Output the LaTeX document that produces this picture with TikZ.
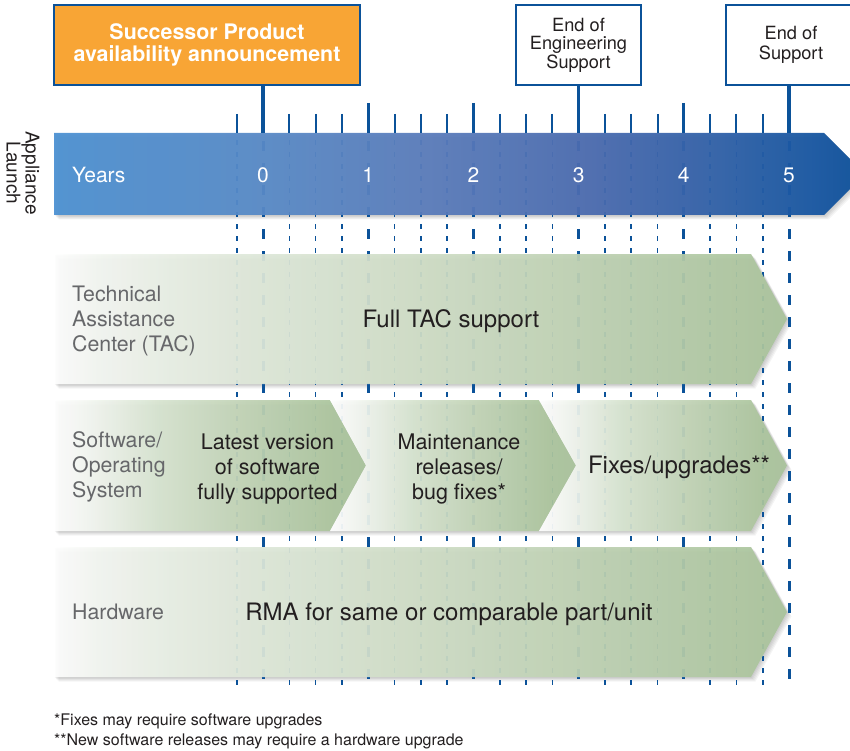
\documentclass[tikz,border=0pt]{standalone}
\usepackage{fontspec}
\setmainfont{TeX Gyre Heros}
\definecolor{cblue}{HTML}{0B5299}
\definecolor{corange}{HTML}{F8A535}
\definecolor{labgray}{HTML}{66676A}
\definecolor{txt}{HTML}{231F20}
\definecolor{gB}{HTML}{A9C49B}
\pgfdeclarehorizontalshading{barshade}{100bp}{color(0bp)=(rgb,255:red,76;green,145;blue,210); color(25bp)=(rgb,255:red,76;green,145;blue,210); color(38bp)=(rgb,255:red,88;green,137;blue,198); color(48bp)=(rgb,255:red,90;green,124;blue,187); color(58bp)=(rgb,255:red,74;green,107;blue,175); color(66bp)=(rgb,255:red,47;green,96;blue,168); color(71bp)=(rgb,255:red,26;green,88;blue,163); color(75bp)=(rgb,255:red,11;green,79;blue,152); color(100bp)=(rgb,255:red,11;green,79;blue,152)}
\pgfdeclarehorizontalshading{rowshade}{100bp}{color(0bp)=(white); color(25bp)=(white); color(28bp)=(rgb,255:red,244;green,247;blue,242); color(33bp)=(rgb,255:red,232;green,239;blue,228); color(38bp)=(rgb,255:red,223;green,232;blue,218); color(50bp)=(rgb,255:red,207;green,221;blue,198); color(62bp)=(rgb,255:red,189;green,208;blue,177); color(75bp)=(gB); color(100bp)=(gB)}
\pgfdeclarehorizontalshading{segshade}{100bp}{color(0bp)=(white); color(25bp)=(white); color(30bp)=(rgb,255:red,245;green,248;blue,243); color(42bp)=(rgb,255:red,214;green,227;blue,207); color(56bp)=(rgb,255:red,192;green,210;blue,180); color(70bp)=(rgb,255:red,171;green,197;blue,157); color(75bp)=(gB); color(100bp)=(gB)}
\newcommand\softshadow[1]{\foreach \k in {1,...,5}{\fill[black, opacity=0.045, shift={(\k*0.9,\k*0.9)}] #1;}}
\tikzset{
  tickmin/.style={cblue, line width=2pt},
  tickmaj/.style={cblue, line width=3.2pt},
  dmin/.style={cblue, line width=1.6pt, dash pattern=on 5pt off 7pt},
  dmaj/.style={cblue, line width=3pt, dash pattern=on 10pt off 12pt},
  topbox/.style={draw=cblue, line width=2.4pt, minimum height=80pt, align=center, inner sep=0},
  rowlab/.style={anchor=west, align=left, inner sep=0, text=labgray, font=\fontsize{21.3}{25}\selectfont},
  mainlab/.style={text=txt, font=\fontsize{24}{25}\selectfont, inner sep=0, anchor=base},
  sublab/.style={text=txt, align=center, font=\fontsize{21.5}{25}\selectfont, inner sep=0},
  yearlab/.style={text=white, font=\fontsize{21}{25}\selectfont, inner sep=0, anchor=base},
  rowfill/.style={fill opacity=0.93}
}
\begin{document}
\begin{tikzpicture}[x=1pt,y=-1pt]
\useasboundingbox (0,0) rectangle (850,751);
\clip (0,0) rectangle (850,751);
% shadows
\softshadow{(54,133) -- (824,133) -- (865,174) -- (824,215) -- (54,215) -- cycle}
\softshadow{(54,254) -- (751,254) -- (787,319) -- (751,384) -- (54,384) -- cycle}
\softshadow{(54,400) -- (751,400) -- (787,465.5) -- (751,531) -- (54,531) -- cycle}
\softshadow{(54,547) -- (751,547) -- (787,612) -- (751,677) -- (54,677) -- cycle}
% dashed guide lines
\foreach \i in {-1,1,2,3,5,6,7,9,10,11,13,14,15,17,18,19}{
  \draw[dmin] (263+\i*26.3,140) -- (263+\i*26.3,690);}
\foreach \i in {0,4,8,12,16,20}{
  \draw[dmaj] (263+\i*26.3,141) -- (263+\i*26.3,690);}
% year bar
\shade[shading=barshade, fill opacity=0.94] (54,133) -- (824,133) -- (865,174) -- (824,215) -- (54,215) -- cycle;
% rows
\shade[shading=rowshade, rowfill] (54,254) -- (751,254) -- (787,319) -- (751,384) -- (54,384) -- cycle;
\shade[shading=segshade, rowfill] (54,400) -- (330,400) -- (366,465.5) -- (330,531) -- (54,531) -- cycle;
\shade[shading=segshade, rowfill] (330,400) -- (539,400) -- (576,465.5) -- (539,531) -- (330,531) -- (366,465.5) -- cycle;
\shade[shading=segshade, rowfill] (539,400) -- (751,400) -- (787,465.5) -- (751,531) -- (539,531) -- (576,465.5) -- cycle;
\shade[shading=rowshade, rowfill] (54,547) -- (751,547) -- (787,612) -- (751,677) -- (54,677) -- cycle;
% ticks above bar
\foreach \i in {-1,1,2,3,5,6,7,9,10,11,13,14,15,17,18,19}{
  \draw[tickmin] (263+\i*26.3,114) -- (263+\i*26.3,133);}
\foreach \i in {4,8,16}{
  \draw[tickmaj] (263+\i*26.3,103) -- (263+\i*26.3,133);}
\coordinate (t0) at (263,133);
\coordinate (t3) at (578.6,133);
\coordinate (t5) at (789,133);
% top boxes
\node[topbox, fill=corange, text=white, minimum width=306pt, font=\bfseries\fontsize{21.4}{22}\selectfont] (succ) at (207,45) {Successor Product\\availability announcement};
\node[topbox, fill=white, text=txt, minimum width=125pt, font=\fontsize{18.2}{18.5}\selectfont] (eoe) at (578.5,45) {End of\\Engineering\\Support};
\node[topbox, fill=white, text=txt, minimum width=130pt, font=\fontsize{18.2}{20}\selectfont] (eos) at (791,45) {End of\\Support};
\draw[tickmaj] (succ.south -| t0) -- (t0);
\draw[tickmaj] (eoe.south -| t3) -- (t3);
\draw[tickmaj] (eos.south -| t5) -- (t5);
% bar labels
\node[rotate=-90, align=center, text=txt, inner sep=0, font=\fontsize{19}{19}\selectfont] (launch) at (23,173) {Appliance\\Launch};
\node[yearlab, anchor=base west] (years) at (72,183) {Years};
\foreach \n in {0,...,5}{
  \node[yearlab] (y\n) at (263+\n*105.2,183) {\n};}
% row labels
\node[rowlab] (tac) at (72,321) {Technical\\Assistance\\Center (TAC)};
\node[mainlab] (fulltac) at (451,327) {Full TAC support};
\node[rowlab] (sw) at (72,467) {Software/\\Operating\\System};
\node[sublab] (latest) at (267.5,469) {Latest version\\of software\\fully supported};
\node[sublab] (maint) at (459,469) {Maintenance\\releases/\\bug fixes*};
\node[mainlab] (fixes) at (679,473) {Fixes/upgrades**};
\node[rowlab, anchor=base west] (hw) at (72,619) {Hardware};
\node[mainlab] (rma) at (449,620) {RMA for same or comparable part/unit};
% footnotes
\node[anchor=base west, inner sep=0, text=txt, font=\fontsize{16}{18}\selectfont] (fn1) at (54,725) {*Fixes may require software upgrades};
\node[anchor=base west, inner sep=0, text=txt, font=\fontsize{16}{18}\selectfont] (fn2) at (54,745) {**New software releases may require a hardware upgrade};
\end{tikzpicture}
\end{document}
